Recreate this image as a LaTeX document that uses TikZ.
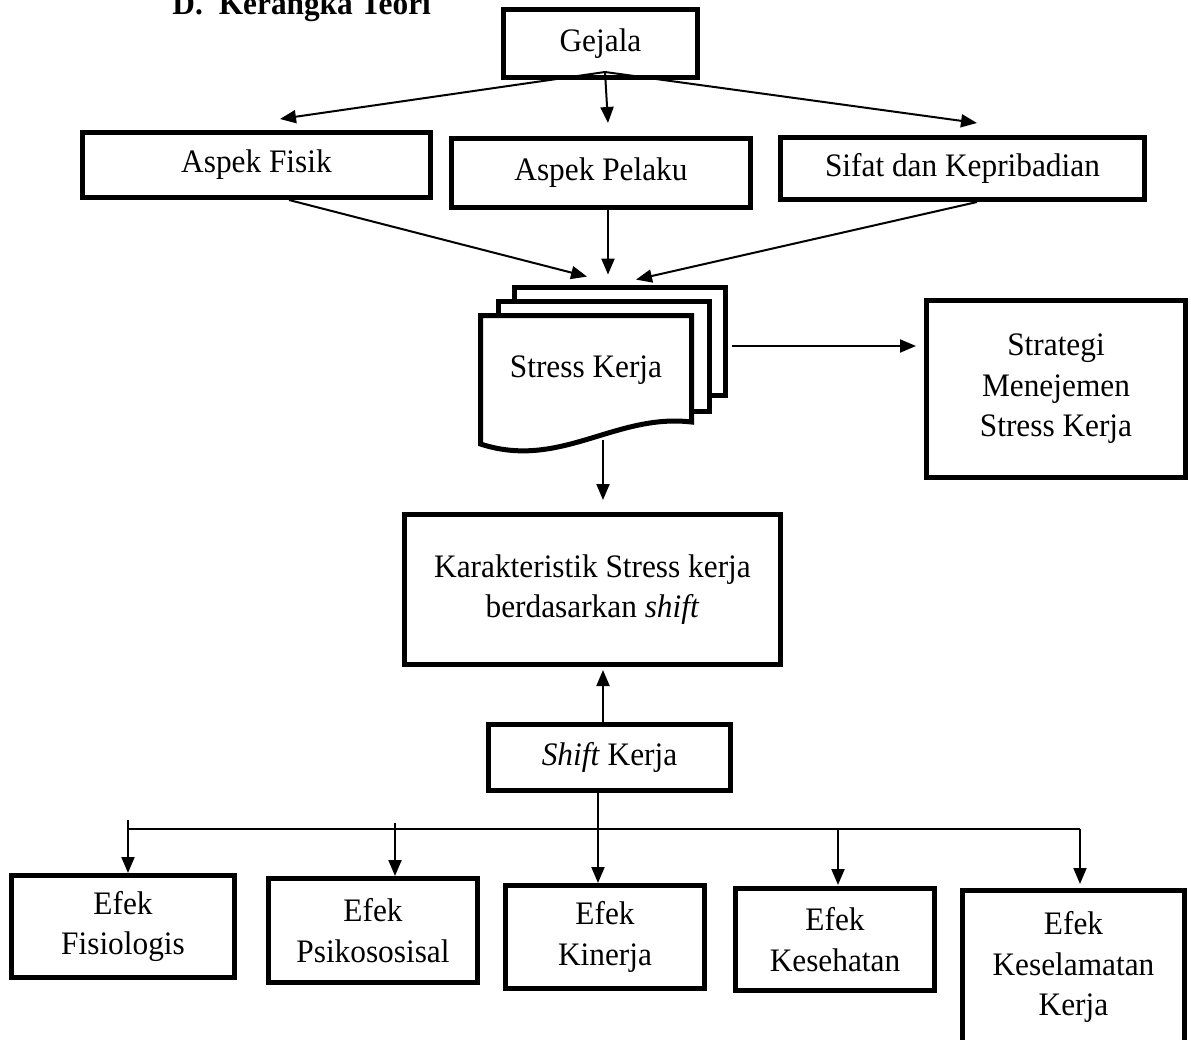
\documentclass[tikz,border=0pt]{standalone}
\usepackage{fontspec}
\setmainfont[FakeStretch=0.955]{Liberation Serif}
\usetikzlibrary{arrows.meta,calc}
\tikzset{
  box/.style={draw, line width=2.5pt, inner sep=0pt, align=center,
    font=\fontsize{16.4}{20.3}\selectfont, fill=white},
  arr/.style={-{Triangle[length=8pt,width=6.5pt]}, line width=1pt},
  page/.style={draw, line width=2.5pt, fill=white},
  lbl/.style={inner sep=0pt, font=\fontsize{16.4}{20.3}\selectfont}
}
\begin{document}
\begin{tikzpicture}[x=0.5pt,y=-0.5pt]
\useasboundingbox (0,0) rectangle (1191,1040);
\fill[white] (0,0) rectangle (1191,1040);

% title
\node[lbl, anchor=base west, font=\fontsize{16.4}{20.3}\selectfont\bfseries] (title) at (172,14) {D.\hspace{8pt}Kerangka Teori};

% boxes
\node[box, minimum width=97pt, minimum height=34pt] (gejala) at (600.5,43.5) {Gejala};
\node[box, minimum width=174pt, minimum height=32.5pt] (fisik) at (256.5,165) {Aspek Fisik};
\node[box, minimum width=149.5pt, minimum height=34.5pt] (pelaku) at (601,173) {Aspek Pelaku};
\node[box, minimum width=182pt, minimum height=31pt] (sifat) at (962.5,168.5) {Sifat dan Kepribadian};
\node[box, minimum width=129.5pt, minimum height=88.5pt] (strat) at (1056,389) {Strategi\\Menejemen\\Stress Kerja};
\node[box, minimum width=188pt, minimum height=75pt] (karak) at (592.5,589.5) {Karakteristik Stress kerja\\berdasarkan \textit{shift}};
\node[box, minimum width=121pt, minimum height=33pt] (shift) at (609.5,757.5) {\textit{Shift} Kerja};
\node[box, minimum width=111.5pt, minimum height=51pt] (fis) at (123,926.5) {Efek\\Fisiologis};
\node[box, minimum width=104.5pt, minimum height=52pt] (psi) at (373,930.5) {Efek\\Psikososisal};
\node[box, minimum width=99.5pt, minimum height=51.5pt] (kin) at (605,937) {Efek\\Kinerja};
\node[box, minimum width=99.5pt, minimum height=51pt] (kes) at (835,939.5) {Efek\\Kesehatan};
\node[box, minimum width=111pt, minimum height=76.5pt] (kesel) at (1073.5,967) {Efek\\Keselamatan\\Kerja};

% stress kerja multi-document shape
\draw[page] (514.5,287.5) rectangle (725.5,395.5);
\draw[page] (498.5,301.5) rectangle (709.5,411.5);
\draw[page] (480.5,444) -- (480.5,315.5) -- (691.5,315.5) -- (691.5,422)
  .. controls (615,413) and (560,470) .. (480.5,444) -- cycle;
\node[inner sep=0pt, minimum width=125pt, minimum height=84pt] (sk) at (603,369) {};
\node[lbl, anchor=base] (sklabel) at (586,377) {Stress Kerja};

% connectors from Gejala
\draw[arr] ($(gejala.south)+(4.5,-8)$) -- ($(fisik.north)+(23.5,-11)$);
\draw[arr] ($(gejala.south)+(4.5,-8)$) -- ($(pelaku.north)+(7,-13)$);
\draw[arr] ($(gejala.south)+(4.5,-8)$) -- ($(sifat.north)+(14.5,-12)$);

% connectors into Stress Kerja
\draw[arr] ($(fisik.south)+(32.5,0)$) -- ($(sk.north)+(-16,-8)$);
\draw[arr] ($(pelaku.south)+(7,0)$) -- ($(sk.north)+(5,-10)$);
\draw[arr] ($(sifat.south)+(14.5,0)$) -- ($(sk.north)+(33,-5)$);

% from Stress Kerja
\draw[arr] ($(sk.east)+(4,-23)$) -- ($(strat.west)+(-8,-43)$);
\draw[arr] ($(sk.south)+(0,-13)$) -- ($(karak.north)+(10.5,-12)$);

% shift to karakteristik
\draw[arr] ($(shift.north)+(-6.5,0)$) -- ($(karak.south)+(10.5,3)$);

% bottom tree
\coordinate (barL) at (128,829);
\coordinate (barR) at (1080,829);
\coordinate (d1) at (128,820);
\coordinate (d2) at (395,823);
\draw[line width=1.1pt] (barL) -- (barR);
\draw[arr] ($(shift.south)+(-11.5,0)$) -- ($(kin.north)+(-7,0)$);
\draw[arr] (d1) -- ($(fis.north)+(5,0)$);
\draw[arr] (d2) -- ($(psi.north)+(22,0)$);
\draw[arr] ($(kes.north)+(3,-57)$) -- ($(kes.north)+(3,-1)$);
\draw[arr] (barR) -- ($(kesel.north)+(6.5,-4)$);
\end{tikzpicture}
\end{document}
